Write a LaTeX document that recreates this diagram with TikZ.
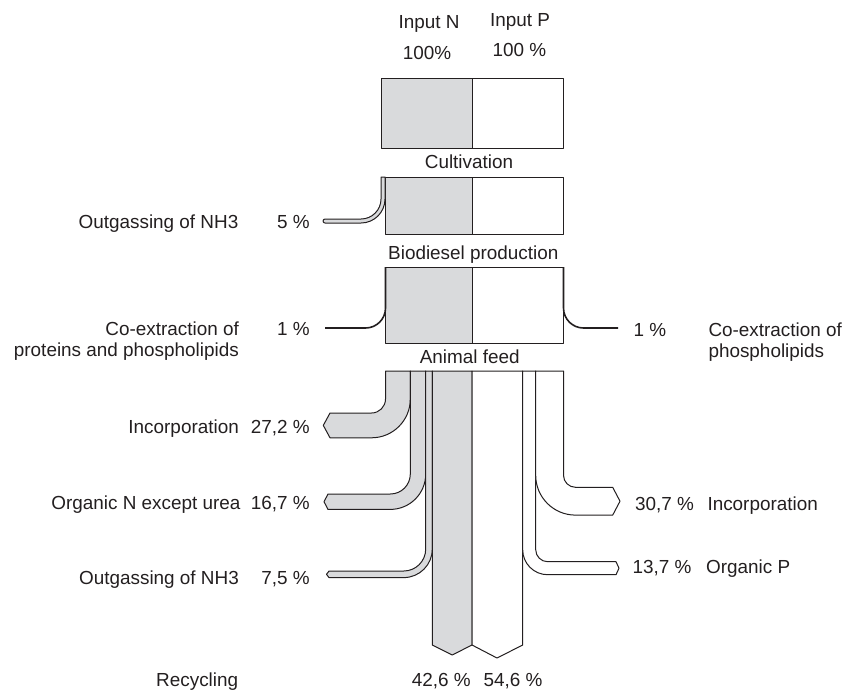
\documentclass[tikz,border=0pt]{standalone}
\usepackage{fontspec}
\setmainfont{Liberation Sans}

\definecolor{feedgray}{RGB}{217,218,220}
\definecolor{flowline}{RGB}{35,31,32}

\begin{document}
\begin{tikzpicture}[x=1pt,y=-1pt,
		nflow/.style={fill=feedgray, draw=flowline, line width=1pt, line join=round},
		pflow/.style={fill=white, draw=flowline, line width=1pt, line join=round},
		loss/.style={draw=flowline, line width=1.6pt},
		lab/.style={inner sep=0pt, text=flowline, font=\fontsize{18.9}{22.7}\selectfont}]
		\useasboundingbox (0,0) rectangle (845,691);

		\draw (429,28.3) node (inputN) [lab, anchor=base] {Input N};
		\draw (520,26.7) node (inputP) [lab, anchor=base] {Input P};
		\draw (427,59.3) node (startN) [lab, anchor=base] {100\%};
		\draw (519.5,56.7) node (startP) [lab, anchor=base] {100 \%};

		% cultivation
		\draw[nflow] (381,78) rectangle (472,148);
		\draw[pflow] (472,78) rectangle (563.5,148);
		\draw (469,168.3) node (cult) [lab, anchor=base] {Cultivation};

		% biodiesel production
		\draw[nflow] (385,177) rectangle (472,234);
		\draw[pflow] (472,177) rectangle (563.5,234);
		\draw[nflow] (381,177) -- (381,199) arc[start angle=0, end angle=90, radius=20] -- (325,219)
			arc[start angle=-90, end angle=-270, radius=2] -- (361,223)
			arc[start angle=90, end angle=0, radius=24] -- (385,177) -- cycle;
		\draw (238.5,228.3) node (gasA) [lab, anchor=base east] {Outgassing of NH3};
		\draw (310,228.3) node (gasApct) [lab, anchor=base east] {5 \%};
		\draw (473.3,259) node (biod) [lab, anchor=base] {Biodiesel production};

		% co-extraction
		\draw[nflow] (385.5,267) rectangle (472,343);
		\draw[pflow] (472,267) rectangle (563.5,343);
		\draw[loss] (385.5,267) -- (385.5,308) arc[start angle=0, end angle=90, radius=20] -- (325,328);
		\draw[loss] (563.5,267) -- (563.5,308) arc[start angle=180, end angle=90, radius=20] -- (618,328);
		\draw (239,335.7) node (coexN) [lab, anchor=base east] {Co-extraction of};
		\draw (239,356.5) node (coexNb) [lab, anchor=base east] {proteins and phospholipids};
		\draw (310,335.7) node (coexNpct) [lab, anchor=base east] {1 \%};
		\draw (633.3,336.7) node (coexPpct) [lab, anchor=base west] {1 \%};
		\draw (708.3,336.7) node (coexP) [lab, anchor=base west] {Co-extraction of};
		\draw (708.3,357.5) node (coexPb) [lab, anchor=base west] {phospholipids};
		\draw (469.7,363.3) node (feed) [lab, anchor=base] {Animal feed};

		% animal feed, N side
		\draw[nflow] (385.5,371) -- (385.5,399) arc[start angle=0, end angle=90, radius=14] -- (330,413)
			-- (323.3,425.4) -- (330,437.8) -- (371.5,437.8)
			arc[start angle=90, end angle=0, radius=38.8] -- (410.3,371) -- cycle;
		\draw[nflow] (410.3,371) -- (410.3,474) arc[start angle=0, end angle=90, radius=20] -- (328,494)
			-- (324,501.7) -- (328,509.4) -- (390.3,509.4)
			arc[start angle=90, end angle=0, radius=35.4] -- (425.7,371) -- cycle;
		\draw[nflow] (425.7,371) -- (425.7,549) arc[start angle=0, end angle=90, radius=22] -- (329,571)
			-- (326.5,574.3) -- (329,577.6) -- (403.7,577.6)
			arc[start angle=90, end angle=0, radius=28.6] -- (432.3,371) -- cycle;
		\draw[nflow] (432.3,371) -- (432.3,645) -- (452.2,655) -- (472,645) -- (472,371) -- cycle;

		% animal feed, P side
		\draw[pflow] (472,371) -- (472,645) -- (497,658) -- (522.7,645) -- (522.7,371) -- cycle;
		\draw[pflow] (522.7,371) -- (522.7,549.7) arc[start angle=180, end angle=90, radius=25] -- (616,574.7)
			-- (619,568.2) -- (616,561.7) -- (547.7,561.7)
			arc[start angle=90, end angle=180, radius=12] -- (535.7,371) -- cycle;
		\draw[pflow] (535.7,371) -- (535.7,475.3) arc[start angle=180, end angle=90, radius=39.8] -- (612.7,515.1)
			-- (620,501.2) -- (612.7,487.3) -- (575.5,487.3)
			arc[start angle=90, end angle=180, radius=12] -- (563.5,371) -- cycle;

		\draw (239,433.3) node (incN) [lab, anchor=base east] {Incorporation};
		\draw (310,433.3) node (incNpct) [lab, anchor=base east] {27,2 \%};
		\draw (240.7,509.3) node (orgN) [lab, anchor=base east] {Organic N except urea};
		\draw (310,509.3) node (orgNpct) [lab, anchor=base east] {16,7 \%};
		\draw (239,584) node (gasB) [lab, anchor=base east] {Outgassing of NH3};
		\draw (310,584) node (gasBpct) [lab, anchor=base east] {7,5 \%};
		\draw (635,510) node (incPpct) [lab, anchor=base west] {30,7 \%};
		\draw (707.3,510) node (incP) [lab, anchor=base west] {Incorporation};
		\draw (632.3,573.3) node (orgPpct) [lab, anchor=base west] {13,7 \%};
		\draw (706,573.3) node (orgP) [lab, anchor=base west] {Organic P};

		\draw (156,686) node (recy) [lab, anchor=base west] {Recycling};
		\draw (411.7,686) node (recyN) [lab, anchor=base west] {42,6 \%};
		\draw (483.3,686) node (recyP) [lab, anchor=base west] {54,6 \%};

	\end{tikzpicture}
\end{document}
